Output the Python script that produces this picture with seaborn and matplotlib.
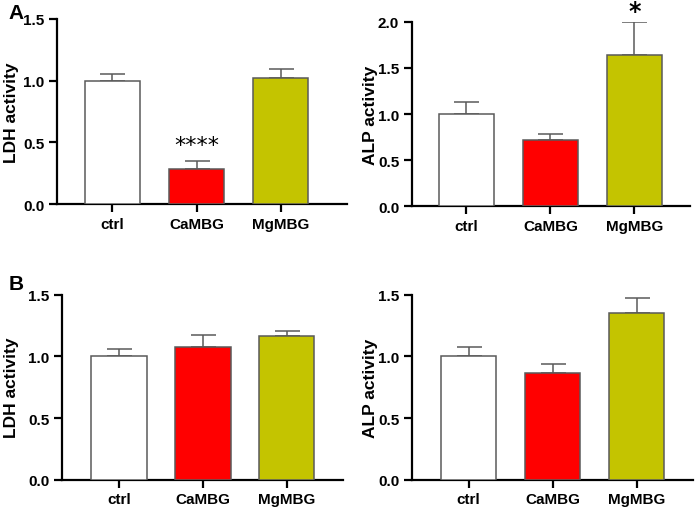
import numpy as np
import pandas as pd
import matplotlib
matplotlib.use("Agg")
import matplotlib.pyplot as plt
import seaborn as sns

# Data
groups = ["ctrl", "CaMBG", "MgMBG"]
colors = ["#FFFFFF", "#FF0000", "#C4C400"]

ldh_a = [1.00, 0.28, 1.025]
ldh_a_err = [0.05, 0.07, 0.07]
alp_a = [1.00, 0.72, 1.635]
alp_a_err = [0.135, 0.06, 0.36]

ldh_b = [1.00, 1.08, 1.165]
ldh_b_err = [0.06, 0.095, 0.045]
alp_b = [1.00, 0.865, 1.35]
alp_b_err = [0.08, 0.07, 0.125]

sns.set_theme(style="ticks")
plt.rcParams["font.family"] = ["Liberation Sans", "DejaVu Sans"]
plt.rcParams["font.weight"] = "bold"
plt.rcParams["text.color"] = "black"
plt.rcParams["axes.labelcolor"] = "black"

fig = plt.figure(figsize=(6.99, 5.10), dpi=100)

panels = [
    # rect, values, errors, ylabel, ylim, yticks, xlim
    ([0.0815, 0.598, 0.415, 0.363], ldh_a, ldh_a_err, "LDH activity", 1.5, [0, 0.5, 1.0, 1.5], (-0.66, 2.79)),
    ([0.589, 0.5935, 0.398, 0.362], alp_a, alp_a_err, "ALP activity", 2.0, [0, 0.5, 1.0, 1.5, 2.0], (-0.65, 2.66)),
    ([0.0887, 0.0575, 0.402, 0.3625], ldh_b, ldh_b_err, "LDH activity", 1.5, [0, 0.5, 1.0, 1.5], (-0.68, 2.67)),
    ([0.589, 0.0575, 0.402, 0.3625], alp_b, alp_b_err, "ALP activity", 1.5, [0, 0.5, 1.0, 1.5], (-0.68, 2.67)),
]
# right edge (pixels) of each rotated y label
label_x = [19, 378, 19, 378]

axes = []
for (rect, vals, errs, ylabel, ytop, yticks, xlim), lx in zip(panels, label_x):
    ax = fig.add_axes(rect)
    df = pd.DataFrame({"group": groups, "value": vals})
    sns.barplot(data=df, x="group", y="value", hue="group", palette=colors,
                saturation=1, width=0.66, edgecolor="#5a5a5a", linewidth=1.1,
                legend=False, errorbar=None, ax=ax, zorder=3)
    xs = np.arange(len(groups))
    ax.errorbar(xs, vals, yerr=[np.zeros(len(vals)), errs], fmt="none",
                ecolor="#5a5a5a", elinewidth=1.1, capsize=9, capthick=1.1, zorder=2)
    ax.set_ylim(0, ytop)
    ax.set_xlim(*xlim)
    ax.set_yticks(yticks)
    ax.set_yticklabels([f"{t:.1f}" for t in yticks])
    ax.set_xlabel("")
    ax.set_ylabel(ylabel, fontsize=12.5, fontweight="bold")
    x_fig = lx / 699.0
    x_ax = (x_fig - rect[0]) / rect[2]
    ax.yaxis.set_label_coords(x_ax, 0.5)
    for s in ["top", "right"]:
        ax.spines[s].set_visible(False)
    for s in ["left", "bottom"]:
        ax.spines[s].set_linewidth(1.6)
        ax.spines[s].set_color("black")
    ax.tick_params(axis="both", length=6, width=1.6, color="black",
                   labelcolor="black", labelsize=11, pad=3)
    for lab in ax.get_xticklabels() + ax.get_yticklabels():
        lab.set_fontweight("bold")
    ax.set_facecolor("white")
    axes.append(ax)

# significance marks
axes[0].text(1, 0.48, "****", ha="center", va="center", fontsize=16,
             family="DejaVu Sans", fontweight="normal")
axes[1].text(2, 2.12, "*", ha="center", va="center", fontsize=17,
             family="DejaVu Sans", fontweight="bold", clip_on=False)

fig.text(0.012, 0.974, "A", fontsize=15, fontweight="bold", va="center")
fig.text(0.012, 0.443, "B", fontsize=15, fontweight="bold", va="center")

fig.savefig("out.png", dpi=100, facecolor="white")
